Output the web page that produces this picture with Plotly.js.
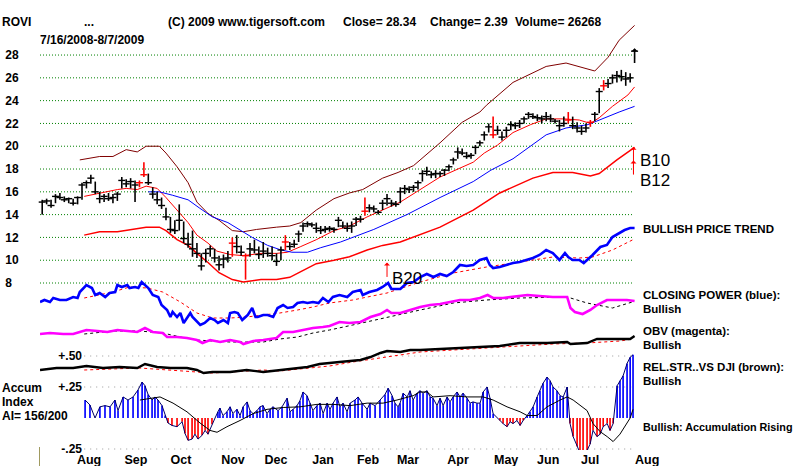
<!DOCTYPE html>
<html><head><meta charset="utf-8">
<script src="https://cdn.plot.ly/plotly-3.0.1.min.js"></script>
<style>html,body{margin:0;padding:0;background:#fff}#chart{width:800px;height:466px}</style>
</head><body><div id="chart"></div>
<script>
// ---------- DATA (x = trading-day index since 7/16/2008) ----------
const barHigh = [15.3,15.4,15.3,15.8,15.9,15.6,15.5,15.4,15.6,16.8,
17.0,17.5,16.9,16.0,15.8,15.9,15.8,16.0,17.3,17.1,
17.2,17.0,17.0,18.6,17.6,16.4,16.0,15.5,14.6,13.8,
13.5,14.9,13.4,12.4,12.6,11.5,10.6,11.0,11.3,11.0,
10.4,10.5,10.8,12.0,12.2,11.3,10.6,11.5,11.8,11.2,
11.6,11.1,11.2,10.6,11.2,12.2,11.6,11.8,12.6,13.3,
13.4,13.3,13.3,13.0,13.0,13.0,12.9,13.8,13.4,13.3,
13.4,13.8,13.9,15.5,14.9,14.8,14.4,15.3,15.8,15.3,
15.2,16.4,16.6,16.5,16.6,17.0,17.9,18.2,17.8,17.9,
17.8,18.0,18.4,19.0,19.9,19.8,19.5,19.4,20.1,20.5,
21.3,22.0,22.6,21.8,21.3,21.7,22.2,22.1,22.3,22.6,
23.0,22.9,22.8,22.7,23.0,22.8,22.4,22.3,22.6,23.0,
22.6,22.1,21.8,22.0,22.3,23.0,25.1,25.8,25.9,26.3,
26.6,26.7,26.5,26.4,28.5];
const barLow = [14.0,14.9,14.6,15.0,15.3,15.1,15.0,14.8,14.9,15.3,
16.3,16.7,15.8,15.0,15.1,15.2,15.0,15.2,16.3,16.4,
16.3,15.1,16.4,17.3,16.6,15.4,14.9,14.5,13.5,12.4,
12.3,12.6,11.5,11.1,10.3,10.2,9.1,9.8,10.3,9.8,
9.1,9.3,9.8,10.3,10.6,10.4,8.3,10.3,10.6,10.1,
10.2,10.3,10.0,9.5,10.0,10.9,10.9,11.1,11.6,12.5,
12.9,12.9,12.4,12.3,12.4,12.5,12.4,12.9,12.8,12.5,
12.4,13.0,13.3,13.9,14.2,14.2,14.0,14.4,14.8,14.7,
14.7,15.0,15.8,15.9,16.0,16.2,16.9,17.4,17.2,17.2,
17.3,17.4,17.8,18.4,18.9,19.2,18.9,18.9,19.3,20.0,
20.5,21.2,20.7,21.0,20.5,20.8,21.4,21.5,21.6,22.0,
22.4,22.4,22.2,22.0,22.2,22.1,22.0,21.3,21.7,22.0,
21.5,21.2,21.0,21.2,21.7,22.2,22.9,24.9,25.1,25.5,
25.6,25.7,25.3,25.6,27.3];
const barClose = [15.1,15.2,14.8,15.6,15.5,15.3,15.4,15.0,15.5,16.6,
16.8,17.2,16.0,15.4,15.6,15.4,15.5,15.8,17.0,16.7,
16.9,16.6,16.8,17.5,16.8,15.8,15.3,14.8,13.8,12.7,
12.6,13.5,11.9,11.4,11.0,10.6,9.5,10.6,11.0,10.2,
9.6,10.1,10.2,11.5,11.2,10.7,10.4,11.0,10.9,10.5,
10.8,10.6,10.4,9.9,10.9,11.6,11.2,11.4,12.3,13.0,
13.2,13.1,12.8,12.6,12.7,12.8,12.7,13.5,13.0,12.8,
13.0,13.6,13.6,14.3,14.6,14.5,14.2,15.0,15.4,15.0,
14.9,16.0,16.3,16.2,16.4,16.8,17.6,17.8,17.5,17.6,
17.6,17.9,18.2,18.8,19.5,19.4,19.1,19.2,19.9,20.3,
21.0,21.7,21.0,21.4,20.8,21.4,21.9,21.8,22.0,22.4,
22.8,22.6,22.5,22.4,22.6,22.4,22.2,21.8,22.0,22.3,
21.8,21.6,21.3,21.6,22.1,22.8,24.8,25.3,25.5,26.0,
26.2,26.1,25.9,26.0,28.34];
const redBarT = [45,47,87,93,111,147,205,239,249,255];

const upperT = [18,27,33,39,44,48,54,57,62,67,71,76,81,87,92,98,107,113,118,125,133,140,146,155,162,169,181,191,199,202,214,229,238,246,251,257,262,269];
const upperV = [18.8,19.1,19.1,19.7,19.5,20.0,20.0,19.4,18.2,16.8,15.1,14.1,13.5,12.6,12.5,12.7,12.9,13.0,13.3,14.4,15.4,15.9,16.2,17.2,17.7,18.3,20.3,22.1,23.0,23.6,25.6,27.0,27.3,26.9,26.6,27.8,29.3,30.6];
const lowerT = [20,27,35,44,48,54,57,62,67,71,76,81,87,92,100,107,113,118,125,133,140,148,155,163,181,196,208,223,232,241,249,253,261,269];
const lowerV = [12.2,12.5,12.5,12.8,12.9,12.9,12.6,11.8,11.3,10.6,9.8,8.9,8.3,8.1,8.3,8.3,8.5,9.0,9.7,10.0,10.3,10.9,11.3,11.6,12.9,14.4,15.9,17.2,17.7,17.7,17.4,17.6,18.8,19.9];
const redMaT = [20,27,35,39,44,48,53,57,62,67,71,76,80,86,92,100,107,112,118,125,133,140,148,155,163,181,196,201,207,214,222,229,237,244,249,253,259,266,269];
const redMaV = [15.6,15.9,16.2,16.3,16.2,16.5,16.3,15.5,14.4,13.3,12.2,11.5,10.8,10.5,10.4,10.6,10.6,10.7,11.2,11.8,12.6,13.0,13.8,14.4,15.1,17.3,18.6,19.4,20.1,21.2,21.9,22.4,22.4,22.3,22.0,22.5,23.5,24.5,25.2];
const blueMaT = [49,54,60,67,72,78,85,90,96,103,109,114,121,127,136,151,166,181,196,204,214,229,238,248,253,262,269];
const blueMaV = [16.0,16.0,15.7,15.3,14.6,13.8,13.3,12.7,12.0,11.3,10.9,10.7,10.7,11.1,11.6,12.7,14.0,15.5,16.9,17.9,18.9,21.0,21.6,21.9,22.3,23.0,23.5];

const cpT = [0,2,4.5,6,9,12,15,17,18,19.5,21,23.5,25,27,29.5,31.5,34,35,37,39.5,40.5,43,44.5,46,47.5,49,51,53.5,55,57.5,59,60,62,63.5,65,66.5,68,69,71,72.5,74.5,77,79,80.5,83,85,86,88,89.5,91.5,93,94,96,97.5,98.5,101,103,105.5,107.5,110,112,114.5,116.5,119,121,123.5,126,128,130.5,132.5,135.5,139,141.5,145,146,149,152.5,155,157.5,159,163,166,169,172,175,178,181,184,187,190,193,196,199,202,203.5,205,208,211,214,217,220,223,226,229,232,235,237.5,239,241,244,246,247.5,250,253.5,256.5,259,262,264.5,267,269];
const cpV = [28,30,28,32,30,30,33,32,38,42,45,42,35,37,33,37,38,45,43,45,42,43,42,48,45,42,35,33,25,20,13,18,13,17,7,12,17,13,8,5,7,12,10,7,10,7,17,18,17,10,13,15,22,13,13,15,15,13,22,25,22,23,27,28,27,28,27,32,28,33,35,33,38,40,35,38,40,43,47,41,41,47,48,53,56,53,56,54,58,65,64,65,70,72,65,62,63,65,67,68,70,72,75,80,77,70,77,73,70,70,67,70,75,83,85,93,97,100,102,102];
const cpMaT = [20,33,40.5,48.5,55.5,63.5,71,78,86,93.5,101,108.5,116.5,123.5,131,141.5,157,172,187,202,217,232,244,250,259,268];
const cpMaV = [32,38,43,42,38,28,17,12,12,13,15,17,20,23,27,30,37,48,57,63,68,73,72,73,80,90];

const obvT = [0,4.5,10.5,15,18,21,26,30.5,35,39.5,44,47.5,51,55.5,57.5,62,66.5,71,73.5,77,81.5,86,90.5,92,96.5,101,107,110,114.5,119,123.5,128,131,135.5,140,145,149.5,154,157,159,163,167.5,172,176.5,181,185.5,190,194.5,199,202.5,205,209.5,214,220.5,226,232,238.5,240,242,245.5,249,252,256.5,261,265.5,269];
const obvV = [16,17,16,16,18,20,19,18,20,19,18,22,18,17,13,13,12,10,7,10,8,10,8,6,9,10,12,18,18,20,22,23,24,28,27,28,33,36,40,37,37,40,43,45,46,48,50,50,52,55,52,52,53,55,54,53,53,42,38,36,40,45,50,50,50,49];
const obvMaT = [20,33,45,55.5,63.5,71,78,86,93.5,101,108.5,116.5,123.5,131,141.5,157,172,187,202,217,232,238.5,247.5,256.5,259,268];
const obvMaV = [16,19,19,17,13,10,9,8,8,8,11,13,17,20,25,33,40,47,50,52,53,53,47,43,42,48];

const rsT = [0,7.5,15,21,28.5,36,44,47.5,53,59,66.5,71,74,78,86,93.5,101,108.5,114.5,121,126.5,130,135.5,145,149.5,154,157,163,167.5,172,181,190,199,208,217,229.5,238.5,240,247.5,252,259,267,269];
const rsV = [0.98,1.00,1.00,1.02,1.00,1.01,1.00,1.04,1.01,1.00,1.00,0.98,0.95,0.96,0.96,0.98,0.96,0.98,1.00,1.01,1.04,1.05,1.06,1.08,1.11,1.15,1.17,1.16,1.18,1.18,1.19,1.20,1.21,1.22,1.25,1.25,1.26,1.24,1.25,1.29,1.29,1.29,1.32];
const rsMaT = [20,45,71,78,86,101,108.5,123.5,131,141.5,157,172,187,202,217,232,247.5,262.5,268];
const rsMaV = [0.98,1.00,0.96,0.95,0.96,0.98,0.97,1.00,1.02,1.06,1.11,1.16,1.18,1.20,1.22,1.24,1.25,1.27,1.29];

const accT = [20.4,22.6,24.9,27.1,29.4,31.7,33.9,35.3,37.6,39.8,
42.1,44.3,46.2,47.5,48.9,50.7,52.0,53.4,55.2,56.6,
57.9,59.7,62.0,64.3,65.6,67.0,68.8,70.1,71.5,73.3,
74.7,76.0,77.8,79.2,80.5,81.4,82.8,84.6,86.0,87.3,
89.1,90.5,91.9,93.7,95.0,96.4,98.2,99.5,100.9,102.7,
104.1,105.4,107.7,109.5,111.8,113.1,114.5,116.3,117.6,119.0,
120.8,122.2,123.5,125.3,126.7,128.1,129.9,131.2,132.6,134.4,
135.7,137.1,138.9,140.3,142.5,143.9,145.7,148.0,149.3,151.6,
153.8,156.1,157.5,159.3,160.6,162.0,162.9,164.3,166.1,167.4,
168.8,170.6,171.9,173.3,175.1,176.5,177.8,179.6,181.0,182.4,
184.2,185.5,186.9,188.7,190.0,191.4,193.2,194.6,195.9,197.7,
199.1,200.5,202.3,203.6,205.0,206.8,208.1,209.5,211.3,212.7,
214.0,215.8,217.2,218.6,220.4,221.7,223.1,224.9,226.2,227.6,
229.4,230.8,232.1,233.9,235.3,236.7,238.5,239.8,241.2,243.0,
244.3,245.7,247.5,248.9,250.2,252.0,253.4,254.8,256.6,257.9,
259.3,261.1,262.4,263.8,265.6,267.0,268.3];
const accV = [.145,.105,0,.09,.10,.09,.145,.06,.17,.145,
.17,.225,.29,.26,.19,.145,.17,.145,.10,.02,
-.04,-.06,-.07,-.03,-.125,-.18,-.17,-.13,-.17,-.14,
-.10,-.13,-.05,0,.05,.08,.02,.05,.09,.035,
.07,.02,.09,.13,.06,.035,.06,.09,.10,.035,
.07,.09,.06,.09,.16,.05,.07,.10,.14,.21,
.18,.12,.06,.10,.12,.035,.12,.07,.12,.17,
.09,.12,.05,.12,.145,.17,.12,.07,.12,.10,
.145,.19,.24,.18,.12,.09,.12,.20,.17,.22,
.145,.20,.22,.20,.22,.17,.16,.10,.16,.10,
.17,.13,.17,.21,.17,.20,.16,.12,.13,.12,
.12,.21,.25,.16,.035,0,-.02,-.045,-.07,-.03,
-.045,-.02,-.06,-.02,.02,.05,.09,.17,.22,.28,
.33,.30,.25,.22,.18,.17,.25,-.045,-.15,-.23,
-.28,-.30,-.26,-.21,-.10,-.15,-.13,-.07,-.045,-.10,
-.045,.26,.30,.34,.44,.49,.51];
const accMaT = [45.2,54.3,60.2,66.5,72.4,76.9,80.1,84.6,90.5,96.4,102.7,110,117.6,125.3,132.6,140.3,148,155.2,161.5,168.8,171.9,175.1,177.8,185.5,193.2,200.5,205,211.3,217.2,220.4,224.9,229.4,235.3,238.5,241.2,247.5,250.2,253.4,256.6,259.3,262.4,267,268.3];
const accMaV = [.145,.17,.12,.05,-.04,-.10,-.115,-.07,-.02,.035,.07,.085,.09,.11,.11,.10,.12,.12,.145,.18,.21,.21,.17,.18,.17,.17,.145,.09,.05,.02,.02,.09,.145,.17,.145,.06,-.045,-.11,-.15,-.19,-.13,0,.07];

const monthT = [22.2,43.4,63.8,87.3,106.8,128.1,148.4,166.5,189.1,210.9,229.9,248.9,274.7];
const monthLabels = ['Aug','Sep','Oct','Nov','Dec','Jan','Feb','Mar','Apr','May','Jun','Jul','Aug'];
const priceTicks = [8,10,12,14,16,18,20,22,24,26,28];
const priceTickText = ['8\u00a0\u00a0','10','12','14','16','18','20','22','24','26','28'];
const accTicks = [-0.25,0.25,0.5];
const accTickText = ['-.25','+.25','+.50'];

// ---------- LAYOUT HELPERS (pixel -> paper) ----------
const PL=40, PR=660, PT=18, PB=450;
const px = v => (v-PL)/(PR-PL);
const py = v => (PB-v)/(PB-PT);
const FONT = 'Liberation Sans, Arial, sans-serif';
const bold = (s)=>({family:FONT,size:s,color:'#000',weight:'bold'});

const barT = barClose.map((_,i)=>2*i+1);
const redIdx=[], blkIdx=[];
barT.forEach((t,i)=> (redBarT.includes(t)?redIdx:blkIdx).push(i));
function barTrace(idx,color){
  return {type:'scatter',mode:'markers',x:idx.map(i=>barT[i]),y:idx.map(i=>barClose[i]),
    marker:{symbol:'line-ew',size:5,color:color,line:{width:1.4,color:color}},
    error_y:{type:'data',symmetric:false,array:idx.map(i=>barHigh[i]-barClose[i]),
      arrayminus:idx.map(i=>barClose[i]-barLow[i]),width:0,thickness:1.6,color:color},
    hoverinfo:'skip',cliponaxis:false};
}
const line=(x,y,color,width,dash,yaxis)=>({type:'scatter',mode:'lines',x:x,y:y,yaxis:yaxis||'y',
  line:{color:color,width:width,dash:dash||'solid'},hoverinfo:'skip',cliponaxis:false});

const posI=[],negI=[];
accV.forEach((v,i)=>(v>=0?posI:negI).push(i));
const accBar=(idx,color)=>({type:'bar',x:idx.map(i=>accT[i]),y:idx.map(i=>accV[i]),yaxis:'y5',
  width:0.75,marker:{color:color,line:{width:0}},hoverinfo:'skip',cliponaxis:false});

const data = [
  line(upperT,upperV,'#800000',1),
  line(lowerT,lowerV,'#ff0000',1.5),
  line(redMaT,redMaV,'#ff0000',1),
  line(blueMaT,blueMaV,'#0000ff',1),
  barTrace(blkIdx,'#000000'),
  barTrace(redIdx,'#ff0000'),
  line(cpMaT,cpMaV,'#ff0000',1,'dot','y2'),
  line(cpT,cpV,'#0000ff',2.6,'solid','y2'),
  line(obvMaT,obvMaV,'#000000',1,'dot','y3'),
  line(obvT,obvV,'#ff00ff',2.6,'solid','y3'),
  line(rsMaT,rsMaV,'#ff0000',1,'dot','y4'),
  line(rsT,rsV,'#000000',2.4,'solid','y4'),
  accBar(posI,'#0000ff'),
  accBar(negI,'#ff0000'),
  line(accT,accV,'#000066',1,'solid','y5'),
  line(accMaT,accMaV,'#000000',1,'solid','y5')
];

const shapes = priceTicks.map(v=>({type:'line',xref:'x',yref:'y',x0:0,x1:268.5,y0:v,y1:v,layer:'below',
  line:{color:'#008000',width:1,dash:'1px,2px'}}))
 .concat(accTicks.map(v=>({type:'line',xref:'x',yref:'y5',x0:20,x1:268.5,y0:v,y1:v,layer:'below',
  line:{color:'#999999',width:1,dash:'1px,5px'}})))
 .concat([{type:'line',xref:'paper',yref:'paper',x0:px(39.5),x1:px(39.5),y0:py(447),y1:py(466),
  line:{color:'#a09a60',width:1}}]);

function txt(s,x,y,font,anchor){return {text:s,xref:'paper',yref:'paper',x:px(x),y:py(y),
  xanchor:anchor||'left',yanchor:'middle',showarrow:false,font:font,borderpad:0};}
function arrow(x,y,ax,ay,color){return {text:'',xref:'x',yref:'y',axref:'x',ayref:'y',x:x,y:y,ax:ax,ay:ay,
  showarrow:true,arrowhead:1,arrowsize:1,arrowwidth:1,arrowcolor:color};}
const big = {family:FONT,size:17,color:'#000'};
const side = bold(11.5);
const annotations = [
  txt('ROVI',1,22,bold(12)),
  txt('...',83,22,bold(12)),
  txt('(C) 2009 www.tigersoft.com',167,22,bold(12)),
  txt('Close= 28.34',342,22,bold(12)),
  txt('Change= 2.39',429,22,bold(12)),
  txt('Volume= 26268',514,22,bold(12)),
  txt('7/16/2008-8/7/2009',39,40,bold(12)),
  txt('BULLISH PRICE TREND',642,229,side),
  txt('CLOSING POWER (blue):',642,295,side),
  txt('Bullish',642,309,side),
  txt('OBV (magenta):',642,331,side),
  txt('Bullish',642,345,side),
  txt('REL.STR..VS DJI (brown):',642,367,side),
  txt('Bullish',642,381,side),
  txt('Bullish: Accumulation Rising',642,427,bold(10.8)),
  txt('Accum',1,388,bold(12)),
  txt('Index',1,402,bold(12)),
  txt('AI= 156/200',1,416,bold(12)),
  txt('B10',639,160,big),
  txt('B12',639,180,big),
  txt('B20',391,278,big),
  arrow(157,9.8,157,8.4,'#ff0000'),
  arrow(268.5,19.95,268.5,17.4,'#ff0000'),
  arrow(268.5,18.75,268.5,17.4,'#ff0000'),
  arrow(269,28.6,269,27.5,'#000000')
];

const hid = r=>({overlaying:'y',range:r,visible:false,fixedrange:true});
const layout = {
  width:800,height:466,margin:{l:PL,r:800-PR,t:PT,b:466-PB},
  paper_bgcolor:'#ffffff',plot_bgcolor:'#ffffff',showlegend:false,barmode:'overlay',
  font:{family:FONT,size:12,color:'#000'},
  xaxis:{range:[0,280.5],tickvals:monthT,ticktext:monthLabels,showgrid:false,zeroline:false,
    showline:false,ticks:'',tickfont:bold(12.5),fixedrange:true},
  yaxis:{range:[-6.65,31.25],tickvals:priceTicks,ticktext:priceTickText,showgrid:false,zeroline:false,
    showline:false,ticks:'outside',ticklen:18,tickcolor:'rgba(0,0,0,0)',tickfont:bold(12),fixedrange:true},
  yaxis2:hid([-120,312]),
  yaxis3:hid([-100,332]),
  yaxis4:hid([0.18,4.5]),
  yaxis5:{overlaying:'y',anchor:'free',position:px(82),side:'left',range:[-0.258,3.226],
    tickvals:accTicks,ticktext:accTickText,showgrid:false,zeroline:false,showline:false,ticks:'',
    tickfont:bold(12),fixedrange:true},
  shapes:shapes,annotations:annotations
};
Plotly.newPlot('chart',data,layout,{staticPlot:true,displayModeBar:false});
</script></body></html>
